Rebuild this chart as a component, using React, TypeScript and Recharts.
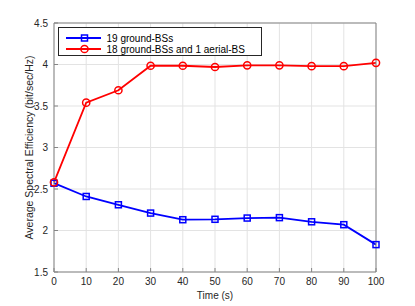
import { LineChart, Line, XAxis, YAxis, CartesianGrid } from "recharts";

const times = [0, 10, 20, 30, 40, 50, 60, 70, 80, 90, 100];
const groundOnly = [2.57, 2.41, 2.31, 2.21, 2.13, 2.135, 2.15, 2.155, 2.105, 2.07, 1.83];
const withAerial = [2.58, 3.54, 3.69, 3.985, 3.985, 3.97, 3.99, 3.99, 3.98, 3.98, 4.02];
const xTicks = [0, 10, 20, 30, 40, 50, 60, 70, 80, 90, 100];
const yTicks = [1.5, 2, 2.5, 3, 3.5, 4, 4.5];

const seriesNames = ["19 ground-BSs", "18 ground-BSs and 1 aerial-BS"];
const xTitle = "Time (s)";
const yTitle = "Average Spectral Efficiency (bit/sec/Hz)";

const data = times.map((t, i) => ({ t, ground: groundOnly[i], aerial: withAerial[i] }));

const FONT = "'Liberation Sans', Arial, sans-serif";
const AXIS_COLOR = "#858585";
const TEXT_COLOR = "#262626";
const TICK = { fontSize: 10, fill: TEXT_COLOR, fontFamily: FONT };

const BLUE = "#0000ff";
const RED = "#ff0000";

const SquareDot = (props: any) => {
  const { cx, cy } = props;
  if (cx == null || cy == null) return null;
  return <rect x={cx - 3} y={cy - 3} width={6} height={6} fill="none" stroke={BLUE} strokeWidth={1.5} />;
};

const CircleDot = (props: any) => {
  const { cx, cy } = props;
  if (cx == null || cy == null) return null;
  return <circle cx={cx} cy={cy} r={3.6} fill="none" stroke={RED} strokeWidth={1.5} />;
};

// axis titles, placed from the axis viewBox
const XTitle = (props: any) => {
  const { x, y, width } = props.viewBox;
  return (
    <text x={x + width / 2} y={y + 27} textAnchor="middle" {...TICK}>
      {xTitle}
    </text>
  );
};

const YTitle = (props: any) => {
  const { x, y, height } = props.viewBox;
  const cx = x + 4.5;
  const cy = y + height / 2;
  return (
    <text
      x={cx}
      y={cy}
      textAnchor="middle"
      dominantBaseline="central"
      transform={`rotate(-90 ${cx} ${cy})`}
      {...TICK}
      fontSize={10.5}
    >
      {yTitle}
    </text>
  );
};

function LegendBox() {
  return (
    <svg width={204} height={29} style={{ position: "absolute", left: 58, top: 27 }}>
      <rect x={0.5} y={0.5} width={203} height={28} fill="#fff" stroke={TEXT_COLOR} strokeWidth={1} />
      <line x1={8} y1={11} x2={43} y2={11} stroke={BLUE} strokeWidth={1.8} />
      <rect x={23.5} y={8} width={6} height={6} fill="none" stroke={BLUE} strokeWidth={1.5} />
      <line x1={8} y1={22} x2={43} y2={22} stroke={RED} strokeWidth={1.8} />
      <circle cx={26.5} cy={22} r={3.6} fill="none" stroke={RED} strokeWidth={1.5} />
      <text x={48.5} y={14.5} fontSize={10} fontFamily={FONT} fill="#000">
        {seriesNames[0]}
      </text>
      <text x={48.5} y={25.5} fontSize={10} fontFamily={FONT} fill="#000">
        {seriesNames[1]}
      </text>
    </svg>
  );
}

export default function App() {
  return (
    <div style={{ position: "absolute", left: 0, top: 0, width: 415, height: 306, background: "#fff" }}>
      <LineChart
        width={415}
        height={306}
        data={data}
        margin={{ top: 22, right: 38, bottom: 4, left: 24 }}
      >
        <CartesianGrid stroke="#e3e3e3" strokeWidth={1} />
        <XAxis
          dataKey="t"
          type="number"
          domain={[0, 100]}
          ticks={xTicks}
          interval={0}
          height={30}
          stroke={AXIS_COLOR}
          tickSize={-4}
          tickMargin={10}
          tick={TICK}
          label={<XTitle />}
        />
        <XAxis
          xAxisId="top"
          orientation="top"
          type="number"
          dataKey="t"
          domain={[0, 100]}
          ticks={xTicks}
          interval={0}
          height={1}
          stroke={AXIS_COLOR}
          tickSize={-4}
          tick={false}
        />
        <YAxis
          type="number"
          domain={[1.5, 4.5]}
          ticks={yTicks}
          interval={0}
          width={30}
          stroke={AXIS_COLOR}
          tickSize={-4}
          tickMargin={10}
          tick={TICK}
          label={<YTitle />}
        />
        <YAxis
          yAxisId="right"
          orientation="right"
          type="number"
          domain={[1.5, 4.5]}
          ticks={yTicks}
          interval={0}
          width={1}
          stroke={AXIS_COLOR}
          tickSize={-4}
          tick={false}
        />
        <Line
          dataKey="ground"
          stroke={BLUE}
          strokeWidth={1.8}
          dot={<SquareDot />}
          activeDot={false}
          isAnimationActive={false}
        />
        <Line
          dataKey="aerial"
          stroke={RED}
          strokeWidth={1.8}
          dot={<CircleDot />}
          activeDot={false}
          isAnimationActive={false}
        />
      </LineChart>
      <LegendBox />
    </div>
  );
}
